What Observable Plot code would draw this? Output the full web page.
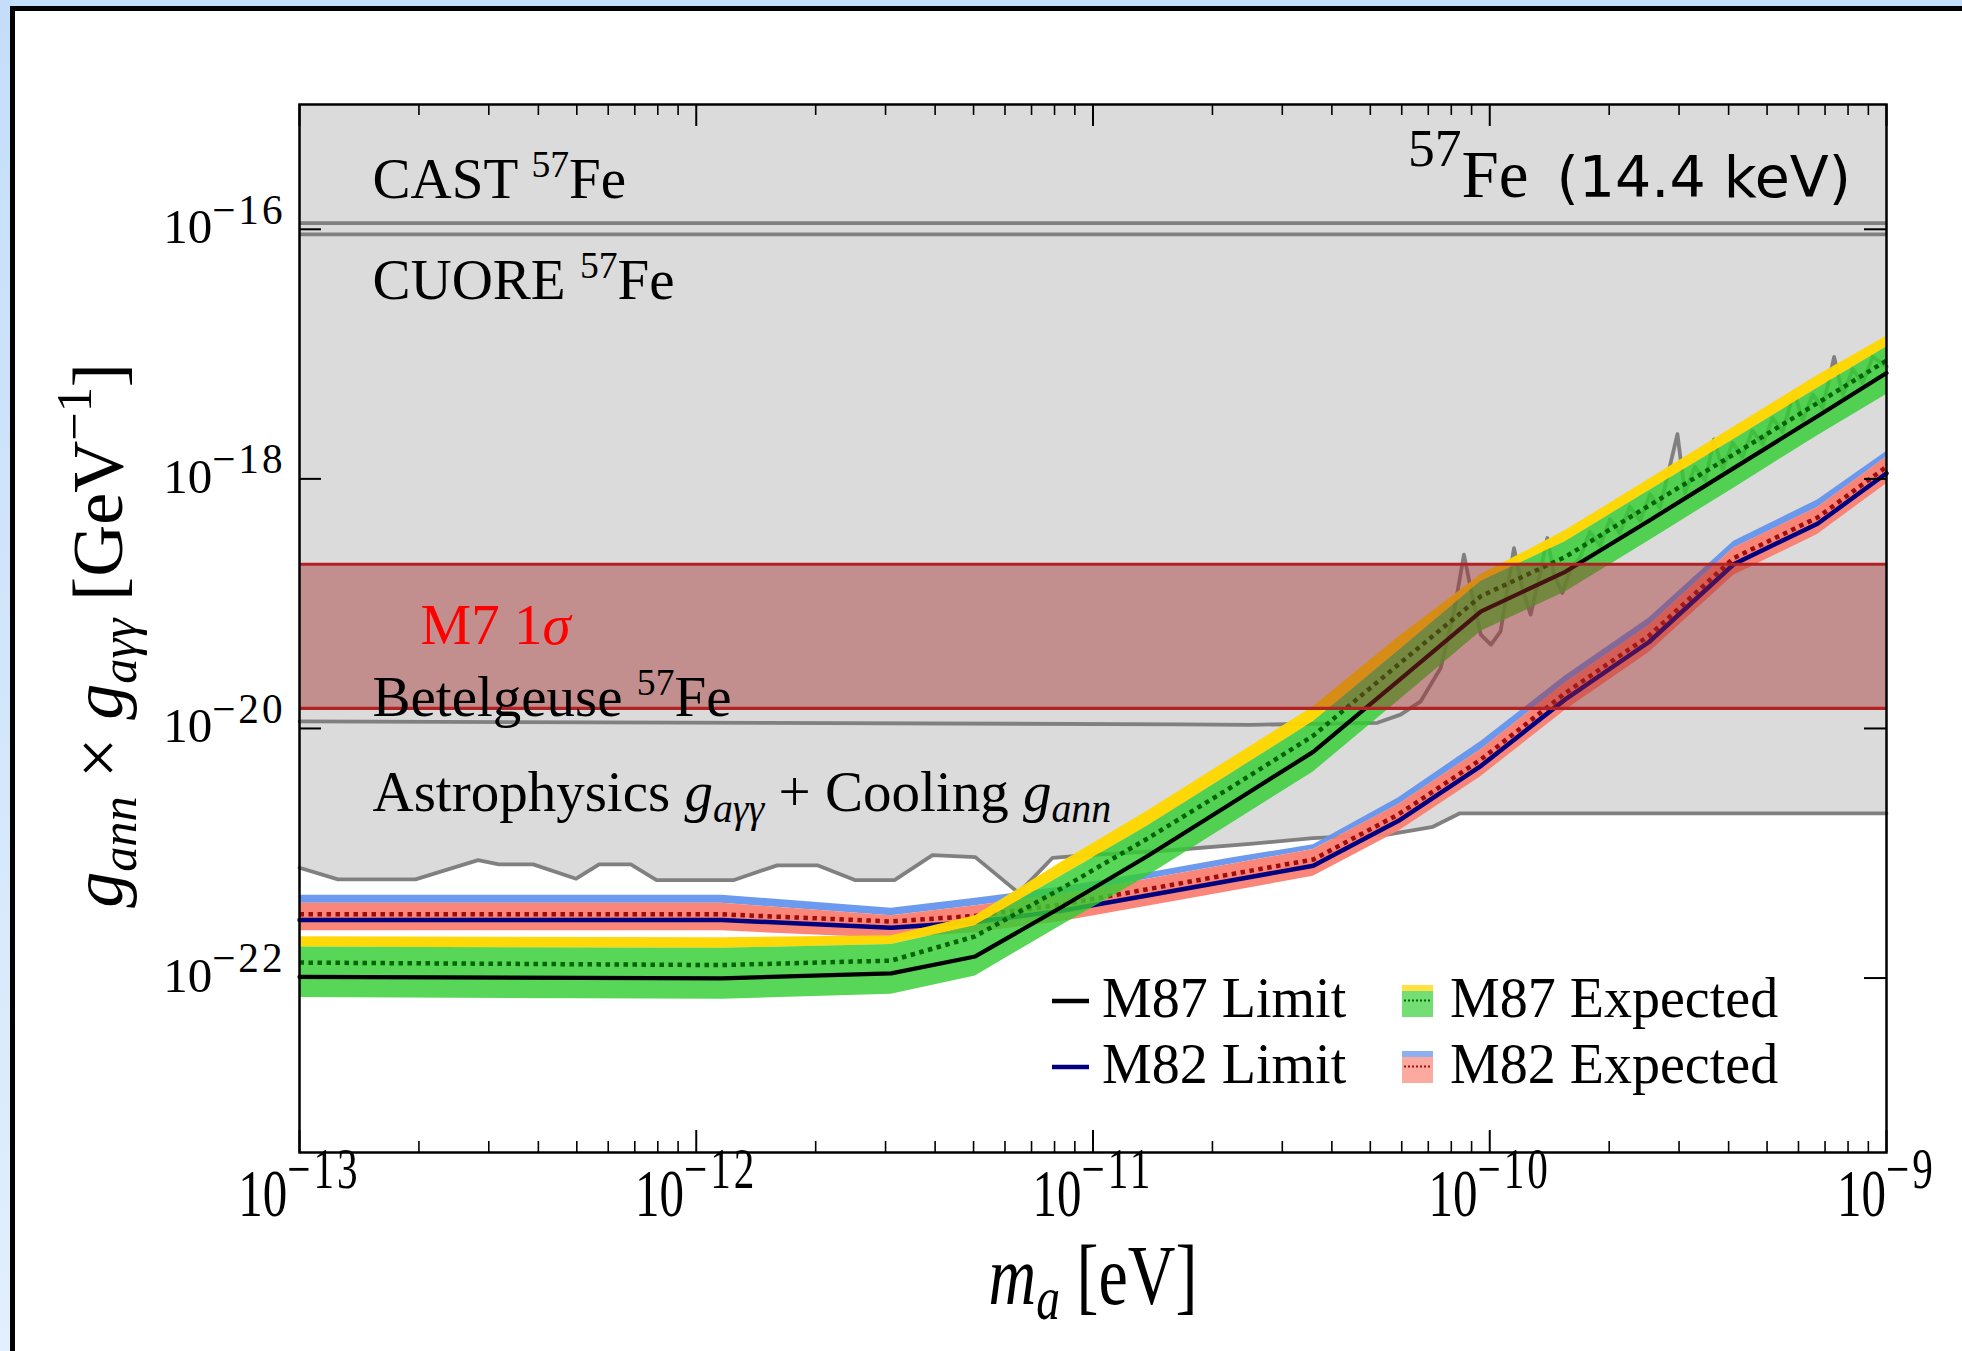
<!DOCTYPE html>
<html><head><meta charset="utf-8">
<script src="https://cdn.jsdelivr.net/npm/d3@7"></script>
<script src="https://cdn.jsdelivr.net/npm/@observablehq/plot@0.6"></script>
<style>
html,body{margin:0;padding:0;width:1962px;height:1351px;overflow:hidden;}
body{background:linear-gradient(180deg,#c4defa 0%,#d2e6fb 50%,#e2effc 100%);position:relative;}
#panel{position:absolute;left:10px;top:6px;width:1980px;height:1380px;background:#fff;border-left:5px solid #000;border-top:5px solid #000;}
#chart{position:absolute;left:0;top:0;width:1962px;height:1351px;}
#chart svg{display:block;overflow:visible;}
#chart tspan{white-space:pre;}
</style></head><body>
<div id="panel"></div>
<div id="chart"></div>
<script>
// ---------- data ----------
const mass = [1e-13, 1.16e-12, 3.10e-12, 5.05e-12, 8.34e-12, 1.36e-11, 2.21e-11, 3.59e-11, 5.89e-11, 9.51e-11, 1.55e-10, 2.52e-10, 4.12e-10, 6.70e-10, 1e-9];

const m87Limit  = [1.02e-22, 9.95e-23, 1.09e-22, 1.49e-22, 3.71e-22, 9.33e-22, 2.46e-21, 6.49e-21, 2.42e-20, 8.69e-20, 1.80e-19, 4.62e-19, 1.22e-18, 3.18e-18, 7.05e-18];
const m87Median = [1.33e-22, 1.27e-22, 1.38e-22, 2.16e-22, 5.24e-22, 1.29e-21, 3.32e-21, 8.75e-21, 3.26e-20, 1.15e-19, 2.37e-19, 6.11e-19, 1.57e-18, 4.05e-18, 8.87e-18];
const m87Up1    = [1.77e-22, 1.73e-22, 1.86e-22, 2.62e-22, 6.61e-22, 1.62e-21, 4.28e-21, 1.13e-20, 4.20e-20, 1.51e-19, 3.13e-19, 8.05e-19, 2.07e-18, 5.33e-18, 1.14e-17];
const m87Up2    = [2.14e-22, 2.10e-22, 2.18e-22, 3.15e-22, 8.51e-22, 2.14e-21, 5.65e-21, 1.49e-20, 5.41e-20, 1.71e-19, 3.85e-19, 9.91e-19, 2.61e-18, 6.73e-18, 1.39e-17];
const m87Lo1    = [6.97e-23, 6.76e-23, 7.41e-23, 1.04e-22, 2.65e-22, 6.46e-22, 1.70e-21, 4.48e-21, 1.67e-20, 6.01e-20, 1.24e-19, 3.20e-19, 8.43e-19, 2.22e-18, 4.75e-18];

const m82Limit  = [2.92e-22, 2.92e-22, 2.53e-22, 2.81e-22, 3.46e-22, 4.56e-22, 6.03e-22, 7.94e-22, 1.82e-21, 5.02e-21, 1.71e-20, 4.93e-20, 2.07e-19, 4.37e-19, 1.11e-18];
const m82Median = [3.24e-22, 3.24e-22, 2.84e-22, 3.15e-22, 3.88e-22, 5.12e-22, 6.76e-22, 8.91e-22, 2.05e-21, 5.65e-21, 1.92e-20, 5.53e-20, 2.32e-19, 4.90e-19, 1.25e-18];
const m82Up1    = [3.97e-22, 3.97e-22, 3.15e-22, 3.79e-22, 4.67e-22, 6.17e-22, 8.13e-22, 1.07e-21, 2.46e-21, 6.79e-21, 2.31e-20, 6.67e-20, 2.79e-19, 5.90e-19, 1.50e-18];
const m82Up2    = [4.61e-22, 4.61e-22, 3.62e-22, 4.36e-22, 5.36e-22, 6.92e-22, 9.12e-22, 1.17e-21, 2.79e-21, 7.89e-21, 2.65e-20, 7.66e-20, 3.16e-19, 6.78e-19, 1.66e-18];
const m82Lo1    = [2.39e-22, 2.39e-22, 2.08e-22, 2.31e-22, 2.84e-22, 3.75e-22, 4.94e-22, 6.53e-22, 1.50e-21, 4.13e-21, 1.40e-20, 4.06e-20, 1.69e-19, 3.59e-19, 9.14e-19];

const astroMass = [1e-13, 1.25e-13, 1.96e-13, 2.82e-13, 3.18e-13, 3.88e-13, 4.98e-13, 5.69e-13, 6.84e-13, 7.94e-13, 1.245e-12, 1.60e-12, 2.02e-12, 2.51e-12, 3.16e-12, 3.94e-12, 5.05e-12, 6.49e-12, 7.91e-12, 9.51e-12, 1.51e-11, 2.49e-11, 3.58e-11, 5.52e-11, 7.19e-11, 8.41e-11, 1e-9];
const astroG    = [7.66e-22, 6.18e-22, 6.18e-22, 8.81e-22, 8.15e-22, 8.15e-22, 6.25e-22, 8.15e-22, 8.15e-22, 6.10e-22, 6.10e-22, 8.00e-22, 8.00e-22, 6.10e-22, 6.10e-22, 9.66e-22, 9.31e-22, 4.82e-22, 9.20e-22, 9.62e-22, 1.047e-21, 1.19e-21, 1.32e-21, 1.41e-21, 1.63e-21, 2.09e-21, 2.09e-21];

const betelMass = [1e-13, 1.66e-11, 2.49e-11, 5.21e-11, 5.96e-11, 6.70e-11, 7.52e-11, 8.13e-11, 8.61e-11, 8.95e-11, 9.49e-11, 1.007e-10, 1.065e-10, 1.151e-10, 1.208e-10, 1.268e-10, 1.343e-10, 1.397e-10, 1.452e-10, 1.524e-10, 1.600e-10, 1.687e-10, 1.787e-10, 1.897e-10, 2.009e-10, 2.128e-10, 2.254e-10, 2.393e-10, 2.535e-10, 2.685e-10, 2.972e-10, 3.105e-10, 3.289e-10, 3.491e-10, 3.673e-10, 3.864e-10, 4.093e-10, 4.335e-10, 4.592e-10, 4.875e-10, 5.164e-10, 5.470e-10, 5.848e-10, 6.152e-10, 6.516e-10, 6.902e-10, 7.379e-10, 7.762e-10, 8.222e-10, 8.710e-10, 9.226e-10, 1e-9];
const betelG    = [1.14e-20, 1.08e-20, 1.07e-20, 1.11e-20, 1.29e-20, 1.65e-20, 3.05e-20, 8.69e-20, 2.47e-19, 1.33e-19, 5.65e-20, 4.70e-20, 6.01e-20, 2.79e-19, 1.33e-19, 8.18e-20, 1.82e-19, 3.36e-19, 1.71e-19, 1.22e-19, 1.93e-19, 2.32e-19, 3.76e-19, 2.92e-19, 4.73e-19, 3.67e-19, 5.97e-19, 4.62e-19, 7.52e-19, 5.83e-19, 2.28e-18, 7.69e-19, 1.25e-18, 9.68e-19, 2.07e-18, 1.19e-18, 1.94e-18, 1.50e-18, 2.44e-18, 1.89e-18, 3.07e-18, 2.38e-18, 4.98e-18, 2.93e-18, 4.75e-18, 3.69e-18, 9.51e-18, 4.65e-18, 7.55e-18, 5.86e-18, 9.51e-18, 7.91e-18];

const castLimit = 1.12e-16;
const cuoreLimit = 9.12e-17;
const m7Band = [1.45e-20, 2.07e-19];

const xDomain = [1e-13, 1e-9];
const yDomain = [4e-24, 1e-15];
const xMajor = [1e-13, 1e-12, 1e-11, 1e-10, 1e-9];
const xTickLabels = ["10^{−13}", "10^{−12}", "10^{−11}", "10^{−10}", "10^{−9}"];
const minorMultipliers = [2, 3, 4, 5, 6, 7, 8, 9];
const yMajor = [1e-22, 1e-20, 1e-18, 1e-16];
const yTickLabels = ["10^{−22}", "10^{−20}", "10^{−18}", "10^{−16}"];

const xLabel = "*m*_{a} [eV]";
const yLabel = "*g*_{ann} × *g*_{aγγ} [GeV^{−1}]";

// ---------- layout ----------
const W = 1962, H = 1351;
const M = {left: 299, right: 76, top: 104, bottom: 199};
const FW = W - M.left - M.right;
const FH = H - M.top - M.bottom;
const serif = "Liberation Serif, Times New Roman, serif";

const xMinor = xMajor.slice(0, -1).flatMap(d => minorMultipliers.map(k => d * k));
const band = (lim, med, up1, up2, lo1) => mass.map((m, i) => ({m, lim: lim[i], med: med[i], up1: up1[i], up2: up2[i], lo1: lo1[i]}));
const m87 = band(m87Limit, m87Median, m87Up1, m87Up2, m87Lo1);
const m82 = band(m82Limit, m82Median, m82Up1, m82Up2, m82Lo1);
const astro = astroMass.map((m, i) => ({m, g: astroG[i]}));
const betel = betelMass.map((m, i) => ({m, g: betelG[i]}));

const tickOpt = {supScale: 0.84, supRise: 0.4, supSpacing: 3};
const textSpecs = [
  {mark: Plot.text(xMajor, {x: d => d, text: (d, i) => xTickLabels[i], frameAnchor: "bottom", dy: 63, lineAnchor: "bottom", fontSize: 49, fontFamily: serif}),
   size: 49, opt: {...tickOpt, stretch: 1.38}},
  {mark: Plot.text(yMajor, {y: d => d, text: (d, i) => yTickLabels[i], frameAnchor: "left", dx: -14, dy: 14, textAnchor: "end", lineAnchor: "bottom", fontSize: 49, fontFamily: serif}),
   size: 49, opt: tickOpt},
  {mark: Plot.text([xLabel], {text: d => d, frameAnchor: "bottom", dy: 151, lineAnchor: "bottom", fontSize: 66, fontFamily: serif}),
   size: 66, opt: {subScale: 0.72, subDrop: 0.18, stretch: 1.28}},
  {mark: Plot.text([yLabel], {text: d => d, frameAnchor: "left", dx: -201, dy: 7, rotate: -90, textAnchor: "middle", lineAnchor: "middle", fontSize: 72, fontFamily: serif}),
   size: 72, opt: {subScale: 0.7, subDrop: 0.2, supScale: 0.7, supRise: 0.42}}
];
const label = (text, o, size = 57, opt = {}) => textSpecs.push({
  mark: Plot.text([text], {text: d => d, frameAnchor: "top-left", lineAnchor: "bottom", textAnchor: "start", fontFamily: serif, fontSize: size, ...o}),
  size, opt
});
label("CAST ^{57}Fe", {dx: 73, dy: 93}, 57, {supScale: 0.66, supRise: 0.36});
label("CUORE ^{57}Fe", {dx: 73, dy: 194}, 57, {supScale: 0.66, supRise: 0.36});
label("M7 1*σ*", {dx: 121, dy: 539, fill: "red"});
label("Betelgeuse ^{57}Fe", {dx: 73, dy: 611}, 57, {supScale: 0.66, supRise: 0.36});
label("Astrophysics *g*_{aγγ} + Cooling *g*_{ann}", {dx: 73, dy: 706}, 57, {subScale: 0.7, subDrop: 0.2});
label("^{57}Fe", {dx: 1229, dy: 92, textAnchor: "end"}, 67, {supScale: 0.8, supRise: 0.45});
label("(14.4 keV)", {dx: 1257, dy: 92, fontFamily: "DejaVu Sans"}, 57);

const dotted = {strokeWidth: 4.5, strokeDasharray: "4.5,4.5", strokeLinecap: "butt", strokeLinejoin: "miter"};

const plot = Plot.plot({
  width: W, height: H,
  marginLeft: M.left, marginRight: M.right, marginTop: M.top, marginBottom: M.bottom,
  style: {background: "transparent", overflow: "visible"},
  x: {type: "log", domain: xDomain, axis: null},
  y: {type: "log", domain: yDomain, axis: null},
  marks: [
    Plot.areaY(astro, {x: "m", y1: "g", y2: yDomain[1], fill: "#dbdbdb"}),
    Plot.ruleY([castLimit, cuoreLimit], {stroke: "#808080", strokeWidth: 3.8}),
    Plot.line(betel, {x: "m", y: "g", stroke: "#808080", strokeWidth: 3.8}),
    Plot.line(astro, {x: "m", y: "g", stroke: "#808080", strokeWidth: 3.8}),
    // M82
    Plot.areaY(m82, {x: "m", y1: "up1", y2: "up2", fill: "cornflowerblue", fillOpacity: 0.95}),
    Plot.areaY(m82, {x: "m", y1: "lo1", y2: "up1", fill: "salmon", fillOpacity: 0.95}),
    Plot.line(m82, {x: "m", y: "med", stroke: "#a00c0c", ...dotted}),
    Plot.line(m82, {x: "m", y: "lim", stroke: "navy", strokeWidth: 4.5}),
    // M87
    Plot.areaY(m87, {x: "m", y1: "up1", y2: "up2", fill: "gold", fillOpacity: 0.97}),
    Plot.areaY(m87, {x: "m", y1: "lo1", y2: "up1", fill: "limegreen", fillOpacity: 0.82}),
    Plot.line(m87, {x: "m", y: "med", stroke: "#006400", ...dotted}),
    Plot.line(m87, {x: "m", y: "lim", stroke: "black", strokeWidth: 4.2}),
    // M7 1 sigma band
    Plot.areaY(xDomain, {x: d => d, y1: m7Band[0], y2: m7Band[1], fill: "brown", fillOpacity: 0.43}),
    Plot.ruleY(m7Band, {stroke: "#b22222", strokeWidth: 3.2}),
    // inward ticks
    Plot.tickX(xMajor, {x: d => d, insetTop: FH - 22, stroke: "black", strokeWidth: 2}),
    Plot.tickX(xMajor, {x: d => d, insetBottom: FH - 22, stroke: "black", strokeWidth: 2}),
    Plot.tickX(xMinor, {x: d => d, insetTop: FH - 11, stroke: "black", strokeWidth: 1.6}),
    Plot.tickX(xMinor, {x: d => d, insetBottom: FH - 11, stroke: "black", strokeWidth: 1.6}),
    Plot.tickY(yMajor, {y: d => d, insetRight: FW - 22, stroke: "black", strokeWidth: 2}),
    Plot.tickY(yMajor, {y: d => d, insetLeft: FW - 22, stroke: "black", strokeWidth: 2}),
    Plot.frame({stroke: "black", strokeWidth: 2.5}),
    ...textSpecs.map(s => s.mark)
  ]
});

function richify(el, size, {supScale = 0.68, supRise = 0.36, subScale = 0.7, subDrop = 0.2, supSpacing = 0, stretch = 0} = {}) {
  const raw = el.textContent;
  el.textContent = "";
  const parts = raw.split(/(\^\{[^}]*\}|_\{[^}]*\}|\*[^*]+\*)/).filter(s => s.length);
  let shift = 0;
  for (const p of parts) {
    let target = 0, fs = size, it = false, t = p, ls = 0;
    if (p.startsWith("^{")) { target = -supRise * size; fs = supScale * size; t = p.slice(2, -1); ls = supSpacing; }
    else if (p.startsWith("_{")) { target = subDrop * size; fs = subScale * size; t = p.slice(2, -1); it = true; }
    else if (p.length > 1 && p.startsWith("*") && p.endsWith("*")) { it = true; t = p.slice(1, -1); }
    const ts = document.createElementNS("http://www.w3.org/2000/svg", "tspan");
    const d = target - shift; shift = target;
    if (d) ts.setAttribute("dy", d.toFixed(2));
    ts.setAttribute("font-size", fs.toFixed(2));
    if (it) ts.setAttribute("font-style", "italic");
    if (ls) ts.setAttribute("letter-spacing", ls);
    ts.textContent = t;
    el.appendChild(ts);
  }
  if (stretch) el.setAttribute("transform", (el.getAttribute("transform") || "") + ` scale(1,${stretch})`);
}
const textGroups = plot.querySelectorAll('g[aria-label="text"]');
textSpecs.forEach((s, i) => {
  if (!textGroups[i]) return;
  textGroups[i].querySelectorAll("text").forEach(el => richify(el, s.size, s.opt));
});

// legend
const svg = d3.select(plot);
const lg = svg.append("g").attr("font-family", serif).attr("font-size", 56).attr("text-anchor", "start").attr("fill", "black");
const legendLines = [
  {name: "M87 Limit", color: "black", y: 1001},
  {name: "M82 Limit", color: "navy", y: 1067}
];
legendLines.forEach(d => {
  lg.append("line").attr("x1", 1052).attr("x2", 1089).attr("y1", d.y).attr("y2", d.y).attr("stroke", d.color).attr("stroke-width", 4.5);
  lg.append("text").attr("x", 1102).attr("y", d.y + 16).text(d.name);
});
const legendPatches = [
  {name: "M87 Expected", top: "gold", body: "limegreen", dot: "darkgreen", y: 985},
  {name: "M82 Expected", top: "cornflowerblue", body: "salmon", dot: "#a01010", y: 1051}
];
legendPatches.forEach(d => {
  lg.append("rect").attr("x", 1402).attr("y", d.y).attr("width", 31).attr("height", 6).attr("fill", d.top).attr("fill-opacity", 0.75);
  lg.append("rect").attr("x", 1402).attr("y", d.y + 6).attr("width", 31).attr("height", 26).attr("fill", d.body).attr("fill-opacity", 0.68);
  lg.append("line").attr("x1", 1404).attr("x2", 1431).attr("y1", d.y + 15.5).attr("y2", d.y + 15.5).attr("stroke", d.dot).attr("stroke-width", 2).attr("stroke-dasharray", "2,2");
  lg.append("text").attr("x", 1450).attr("y", d.y + 32).text(d.name);
});

document.getElementById("chart").appendChild(plot);
</script>
</body></html>
